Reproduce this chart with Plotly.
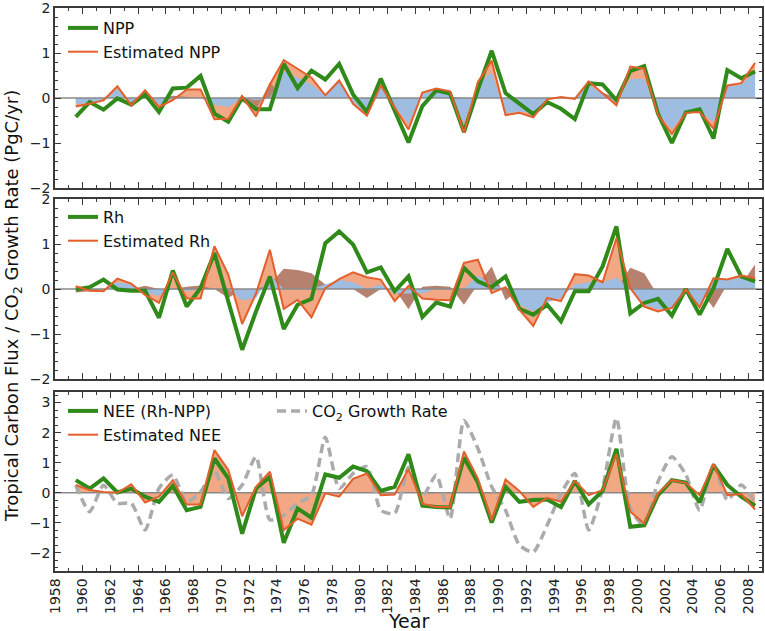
import plotly.graph_objects as go
from plotly.subplots import make_subplots

years = list(range(1959, 2009))
xmid = [y + 0.5 for y in years]  # annual means centred mid-year

# Panel 1: NPP
npp = [-0.42,-0.09,-0.26,-0.01,-0.15,0.08,-0.31,0.21,0.23,0.49,
       -0.35,-0.53,0.00,-0.25,-0.25,0.76,0.22,0.61,0.41,0.76,
       0.08,-0.31,0.43,-0.27,-0.99,-0.18,0.17,0.10,-0.76,0.18,
       1.05,0.11,-0.12,-0.36,-0.09,-0.24,-0.47,0.33,0.30,-0.05,
       0.60,0.71,-0.35,-1.00,-0.32,-0.25,-0.90,0.62,0.44,0.59]
est_npp = [-0.19,-0.13,-0.05,0.26,-0.16,0.17,-0.20,-0.05,0.19,0.19,
           -0.47,-0.46,0.04,-0.41,0.30,0.84,0.65,0.45,0.06,0.39,
           -0.13,-0.39,0.28,-0.20,-0.70,0.12,0.21,0.15,-0.77,0.35,
           0.83,-0.38,-0.33,-0.43,-0.03,0.02,-0.02,0.37,0.10,-0.16,
           0.70,0.65,-0.38,-0.80,-0.33,-0.31,-0.68,0.28,0.33,0.78]
blue_npp = [-0.13,-0.12,-0.05,0.20,-0.12,0.12,-0.15,0.00,0.00,0.00,
            -0.15,-0.20,0.00,-0.05,0.00,0.60,0.45,0.30,0.06,0.39,
            -0.10,-0.35,0.28,-0.20,-0.57,0.10,0.18,0.12,-0.57,0.30,
            0.57,-0.35,-0.30,-0.33,-0.03,0.02,-0.02,0.30,0.08,-0.10,
            0.42,0.42,-0.35,-0.70,-0.30,-0.28,-0.55,0.25,0.30,0.57]
brown_npp = [0,0,0,0,0,0,0,0.05,0.03,0,
             0,0,-0.08,-0.27,0.35,0,0,0,0,0,
             0,0,0,0,0,0,0,0.03,0,0,
             0,0,0,-0.42,0,0,0,0,0.12,0,
             0,0,0,0,0,0,0,0,0,0]

# Panel 2: Rh
rh = [-0.01,0.04,0.21,-0.01,-0.04,-0.04,-0.64,0.41,-0.39,0.02,
      0.80,-0.25,-1.35,-0.50,0.28,-0.89,-0.35,-0.22,1.02,1.28,
      0.99,0.37,0.48,-0.05,0.28,-0.62,-0.30,-0.39,0.47,0.17,
      0.04,0.28,-0.44,-0.57,-0.35,-0.72,-0.05,-0.05,0.50,1.39,
      -0.54,-0.31,-0.22,-0.59,0.00,-0.57,0.02,0.89,0.28,0.17]
est_rh = [0.06,-0.04,-0.05,0.23,0.12,-0.13,-0.31,0.37,-0.21,-0.21,
          0.95,0.32,-0.78,-0.10,0.87,-0.44,-0.24,-0.63,0.02,0.22,
          0.37,0.26,0.21,-0.27,0.07,-0.21,-0.24,-0.25,0.58,0.65,
          -0.09,0.04,-0.46,-0.82,-0.20,-0.27,0.33,0.30,0.15,1.13,
          0.02,-0.39,-0.50,-0.42,-0.01,-0.41,0.24,0.21,0.30,0.24]
blue_rh = [0,0,0,0.15,0.10,-0.08,-0.15,0,-0.05,0,
           0,0,-0.25,-0.20,0.30,0,0,0,0.10,0.20,
           0.15,0,0.10,-0.10,-0.10,-0.10,0,0,0,0.30,
           0.10,0,-0.35,-0.50,-0.30,-0.20,0.10,0.15,0.15,0.25,
           0,-0.35,-0.45,-0.45,-0.05,-0.40,0.20,0.20,0.25,0.20]
brown_rh = [-0.08,-0.05,0,0,0,0.07,0,0,0.05,0.08,
            0,-0.20,0,0,0.10,0.45,0.42,0.35,0.10,0,
            0,-0.20,0,0,-0.45,0.05,0.07,0.05,-0.35,0.10,
            0.50,-0.25,0,0,0,0,0,0,0,0,
            0.47,0.35,-0.15,0,-0.10,0,-0.42,0.10,0.10,0.55]

# Panel 3: NEE
nee = [0.42,0.14,0.48,0.01,0.14,-0.13,-0.30,0.23,-0.58,-0.47,
       1.14,0.48,-1.36,0.14,0.53,-1.66,-0.52,-0.83,0.61,0.50,
       0.87,0.72,0.06,0.20,1.28,-0.43,-0.47,-0.49,1.17,0.35,
       -0.99,0.20,-0.30,-0.24,-0.22,-0.47,0.39,-0.38,0.06,1.46,
       -1.13,-1.08,-0.08,0.42,0.34,-0.32,0.92,0.26,-0.13,-0.43]
est_nee = [0.26,0.09,0.03,0.00,0.28,-0.32,-0.13,0.42,-0.39,-0.39,
           1.42,0.76,-0.78,0.20,0.70,-1.24,-0.86,-1.06,-0.02,-0.13,
           0.46,0.64,-0.08,-0.06,0.79,-0.36,-0.47,-0.47,1.37,0.48,
           -0.91,0.44,0.06,-0.47,-0.17,-0.30,0.39,-0.08,0.09,1.29,
           -0.63,-1.02,-0.02,0.42,0.33,-0.08,0.96,-0.08,-0.04,-0.56]
co2_gr = [0.25,-0.63,0.25,-0.35,-0.35,-1.24,0.15,0.59,-0.30,0.03,
          0.72,-0.19,0.26,1.20,-0.90,-0.75,-0.35,-0.08,1.85,0.14,
          0.64,0.87,-0.58,-0.69,0.85,-0.13,0.59,-0.86,2.40,1.48,
          0.20,-0.58,-1.74,-1.97,-1.08,-0.02,0.64,-1.24,0.14,2.48,
          -0.52,-1.08,0.37,1.20,0.61,-0.58,0.92,-0.24,0.26,-0.30]

GREEN = '#2f8a1a'
ORANGE = '#e2602c'
SALMON = '#f2a785'
BLUE = '#9ebde0'
BROWN = '#b5826f'
FONT = 'DejaVu Sans'
XR = [1958, 2009]

fig = make_subplots(rows=3, cols=1, shared_xaxes=False, vertical_spacing=0.02)

def fill(row, vals, color):
    fig.add_trace(go.Scatter(x=xmid, y=vals, mode='lines', fill='tozeroy', fillcolor=color,
                             line=dict(width=0, color=color), showlegend=False, hoverinfo='skip'),
                  row=row, col=1)

def zero(row):
    fig.add_trace(go.Scatter(x=XR, y=[0, 0], mode='lines', line=dict(color='#8a8a8a', width=1.5),
                             showlegend=False, hoverinfo='skip'), row=row, col=1)

# Panel 1
fill(1, est_npp, SALMON); fill(1, brown_npp, BROWN); fill(1, blue_npp, BLUE); zero(1)
fig.add_trace(go.Scatter(x=xmid, y=npp, mode='lines', name='NPP', line=dict(color=GREEN, width=4), legend='legend'), row=1, col=1)
fig.add_trace(go.Scatter(x=xmid, y=est_npp, mode='lines', name='Estimated NPP', line=dict(color=ORANGE, width=2), legend='legend'), row=1, col=1)

# Panel 2
fill(2, est_rh, SALMON); fill(2, brown_rh, BROWN); fill(2, blue_rh, BLUE); zero(2)
fig.add_trace(go.Scatter(x=xmid, y=rh, mode='lines', name='Rh', line=dict(color=GREEN, width=4), legend='legend2'), row=2, col=1)
fig.add_trace(go.Scatter(x=xmid, y=est_rh, mode='lines', name='Estimated Rh', line=dict(color=ORANGE, width=2), legend='legend2'), row=2, col=1)

# Panel 3
fill(3, est_nee, SALMON); zero(3)
fig.add_trace(go.Scatter(x=xmid, y=co2_gr, mode='lines', name='CO<sub>2</sub> Growth Rate',
                         line=dict(color='#ababab', width=3.5, dash='9px,5px', shape='spline', smoothing=0.6),
                         legend='legend4'), row=3, col=1)
fig.add_trace(go.Scatter(x=xmid, y=nee, mode='lines', name='NEE (Rh-NPP)', line=dict(color=GREEN, width=4), legend='legend3'), row=3, col=1)
fig.add_trace(go.Scatter(x=xmid, y=est_nee, mode='lines', name='Estimated NEE', line=dict(color=ORANGE, width=2), legend='legend3'), row=3, col=1)

# layout: plot area from y=8 to y=571 (px), x from 55 to 762
H = 631; W = 765
mt, mb, ml, mr = 8, 60, 55, 3
ph = H - mt - mb
pw = W - ml - mr
def dom(top_px, bot_px):
    return [(H - mb - bot_px) / ph, (H - mb - top_px) / ph]
def ly(px):
    return (H - mb - px) / ph
def lx(px):
    return (px - ml) / pw

domains = [dom(8, 188), dom(199, 379), dom(392, 571)]
yranges = [[-2, 2], [-2, 2], [-2.6, 3.35]]
yminor = [0.2, 0.2, 0.25]

axis_common = dict(showline=True, linecolor='#3a3a3a', linewidth=1.5, mirror='allticks',
                   ticks='inside', ticklen=6, tickwidth=1, tickcolor='#3a3a3a',
                   showgrid=False, zeroline=False, automargin=False, ticklabeloverflow='allow',
                   tickfont=dict(family=FONT, size=14, color='#222'))

for i in range(3):
    xa = 'xaxis' if i == 0 else f'xaxis{i+1}'
    ya = 'yaxis' if i == 0 else f'yaxis{i+1}'
    fig.layout[xa].update(range=XR, dtick=2, tick0=1958, tickformat='d',
                          showticklabels=(i == 2), tickangle=-90,
                          minor=dict(dtick=1, ticks='inside', ticklen=3, tickcolor='#3a3a3a', showgrid=False),
                          **axis_common)
    fig.layout[ya].update(range=yranges[i], domain=domains[i], dtick=1,
                          minor=dict(dtick=yminor[i], ticks='inside', ticklen=3, tickcolor='#3a3a3a', showgrid=False),
                          **axis_common)

legfont = dict(family=FONT, size=16, color='#111')

fig.update_layout(
    width=W, height=H,
    margin=dict(l=ml, r=mr, t=mt, b=mb, autoexpand=False),
    paper_bgcolor='white', plot_bgcolor='white',
    font=dict(family=FONT, color='#111'),
    legend=dict(x=lx(63), y=ly(11), xanchor='left', yanchor='top', bgcolor='rgba(0,0,0,0)', font=legfont),
    legend2=dict(x=lx(63), y=ly(200), xanchor='left', yanchor='top', bgcolor='rgba(0,0,0,0)', font=legfont),
    legend3=dict(x=lx(63), y=ly(394), xanchor='left', yanchor='top', bgcolor='rgba(0,0,0,0)', font=legfont),
    legend4=dict(x=lx(272), y=ly(394), xanchor='left', yanchor='top', bgcolor='rgba(0,0,0,0)', font=legfont),
    annotations=[
        dict(text='Tropical Carbon Flux / CO<sub>2</sub> Growth Rate (PgC/yr)', textangle=-90,
             x=lx(13), y=ly(306), xref='paper', yref='paper', xanchor='center', showarrow=False,
             font=dict(family=FONT, size=18, color='#111')),
        dict(text='Year', x=lx(408), y=ly(621), xref='paper', yref='paper', yanchor='middle', showarrow=False,
             font=dict(family=FONT, size=19, color='#111')),
    ],
)

fig.write_html('out.html', config={'displayModeBar': False},
               post_script="document.body.style.margin='0px';window.dispatchEvent(new Event('resize'));")
